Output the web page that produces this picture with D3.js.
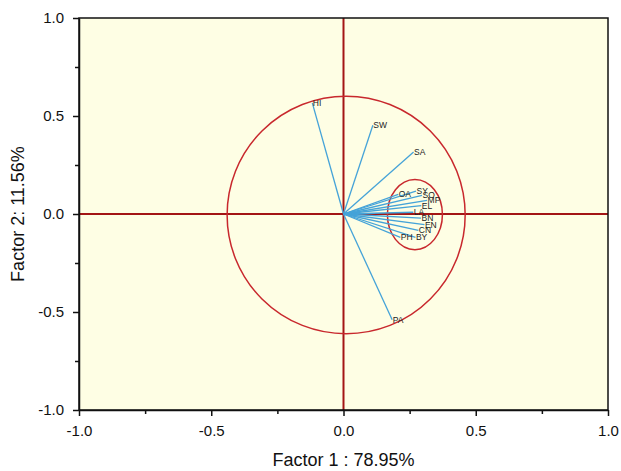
<!DOCTYPE html>
<html>
<head>
<meta charset="utf-8">
<script src="https://cdn.jsdelivr.net/npm/d3@7"></script>
<style>
  body { margin: 0; background: #fff; }
  text { font-family: "Liberation Sans", Arial, sans-serif; }
</style>
</head>
<body>
<svg id="chart"></svg>
<script>
/* loading vectors */
const varNames = ["HI", "SW", "SA", "OA", "SY", "SO", "MP", "EL", "LA", "BN", "EN", "CN", "PH", "BY", "PA"];
const factor1 = [-0.118, 0.111, 0.265, 0.207, 0.274, 0.297, 0.316, 0.294, 0.264, 0.293, 0.306, 0.283, 0.215, 0.272, 0.184];
const factor2 = [0.567, 0.453, 0.316, 0.100, 0.117, 0.095, 0.069, 0.043, 0.009, -0.021, -0.054, -0.084, -0.119, -0.119, -0.540];

/* circles: centre x, centre y, radius x, radius y (data units) */
const ellipses = [
  {cx: 0.01, cy: -0.005, rx: 0.45, ry: 0.606},
  {cx: 0.27, cy: -0.003, rx: 0.104, ry: 0.179}
];

const tickValues = [-1.0, -0.5, 0.0, 0.5, 1.0];
const minorTicks = [-0.75, -0.25, 0.25, 0.75];

const width = 621, height = 471;
const margin = {left: 79, right: 13, top: 18, bottom: 61};

const svg = d3.select("#chart").attr("width", width).attr("height", height);

const x = d3.scaleLinear().domain([-1, 1]).range([margin.left, width - margin.right]);
const y = d3.scaleLinear().domain([-1, 1]).range([height - margin.bottom, margin.top]);

// plain hyphen instead of unicode minus, like the original
const fmt = d => d3.format(".1f")(d).replace("\u2212", "-");

/* plot background */
svg.append("rect")
  .attr("x", x(-1)).attr("y", y(1))
  .attr("width", x(1) - x(-1)).attr("height", y(-1) - y(1))
  .attr("fill", "#fefee4");

/* zero lines */
svg.append("line")
  .attr("x1", x(-1)).attr("x2", x(1)).attr("y1", y(0)).attr("y2", y(0))
  .attr("stroke", "#a31515").attr("stroke-width", 2);
svg.append("line")
  .attr("x1", x(0)).attr("x2", x(0)).attr("y1", y(-1)).attr("y2", y(1))
  .attr("stroke", "#a31515").attr("stroke-width", 2);

/* circles */
svg.selectAll(".circ")
  .data(ellipses)
  .enter()
  .append("ellipse")
  .attr("class", "circ")
  .attr("cx", d => x(d.cx))
  .attr("cy", d => y(d.cy))
  .attr("rx", d => x(d.rx) - x(0))
  .attr("ry", d => y(0) - y(d.ry))
  .attr("fill", "none")
  .attr("stroke", "#c8282d")
  .attr("stroke-width", 1.5);

/* vectors */
const vectors = varNames.map((n, i) => ({name: n, fx: factor1[i], fy: factor2[i]}));

svg.selectAll(".vec")
  .data(vectors)
  .enter()
  .append("line")
  .attr("class", "vec")
  .attr("x1", x(0)).attr("y1", y(0))
  .attr("x2", d => x(d.fx)).attr("y2", d => y(d.fy))
  .attr("stroke", "#45a3d8")
  .attr("stroke-width", 1.3);

svg.selectAll(".vlab")
  .data(vectors)
  .enter()
  .append("text")
  .attr("class", "vlab")
  .attr("x", d => x(d.fx) + 0.5)
  .attr("y", d => y(d.fy))
  .attr("dy", "0.35em")
  .attr("font-size", 8.5)
  .attr("fill", "#222")
  .text(d => d.name);

/* axes */
const xAxis = svg.append("g").attr("transform", "translate(0," + y(-1) + ")");
xAxis.call(d3.axisBottom(x).tickValues(tickValues).tickFormat(fmt).tickSize(6).tickPadding(9).tickSizeOuter(0));
xAxis.append("g").call(d3.axisBottom(x).tickValues(minorTicks).tickFormat("").tickSize(4).tickSizeOuter(0))
  .select(".domain").remove();

const yAxis = svg.append("g").attr("transform", "translate(" + x(-1) + ",0)");
yAxis.call(d3.axisLeft(y).tickValues(tickValues).tickFormat(fmt).tickSize(6).tickPadding(9).tickSizeOuter(0));
yAxis.append("g").call(d3.axisLeft(y).tickValues(minorTicks).tickFormat("").tickSize(4).tickSizeOuter(0))
  .select(".domain").remove();

svg.selectAll(".tick text")
  .attr("font-size", 15)
  .attr("font-family", "Liberation Sans, Arial, sans-serif")
  .attr("fill", "#111");
svg.selectAll(".domain, .tick line").attr("stroke", "#111").attr("stroke-width", 1.5);

/* frame */
svg.append("rect")
  .attr("x", x(-1)).attr("y", y(1))
  .attr("width", x(1) - x(-1)).attr("height", y(-1) - y(1))
  .attr("fill", "none")
  .attr("stroke", "#111")
  .attr("stroke-width", 1.5);

/* axis titles */
svg.append("text")
  .attr("x", x(0))
  .attr("y", 466)
  .attr("text-anchor", "middle")
  .attr("font-size", 18)
  .attr("fill", "#111")
  .text("Factor 1 : 78.95%");

svg.append("text")
  .attr("transform", "translate(24," + y(0) + ") rotate(-90)")
  .attr("text-anchor", "middle")
  .attr("font-size", 18)
  .attr("fill", "#111")
  .text("Factor 2: 11.56%");
</script>
</body>
</html>
